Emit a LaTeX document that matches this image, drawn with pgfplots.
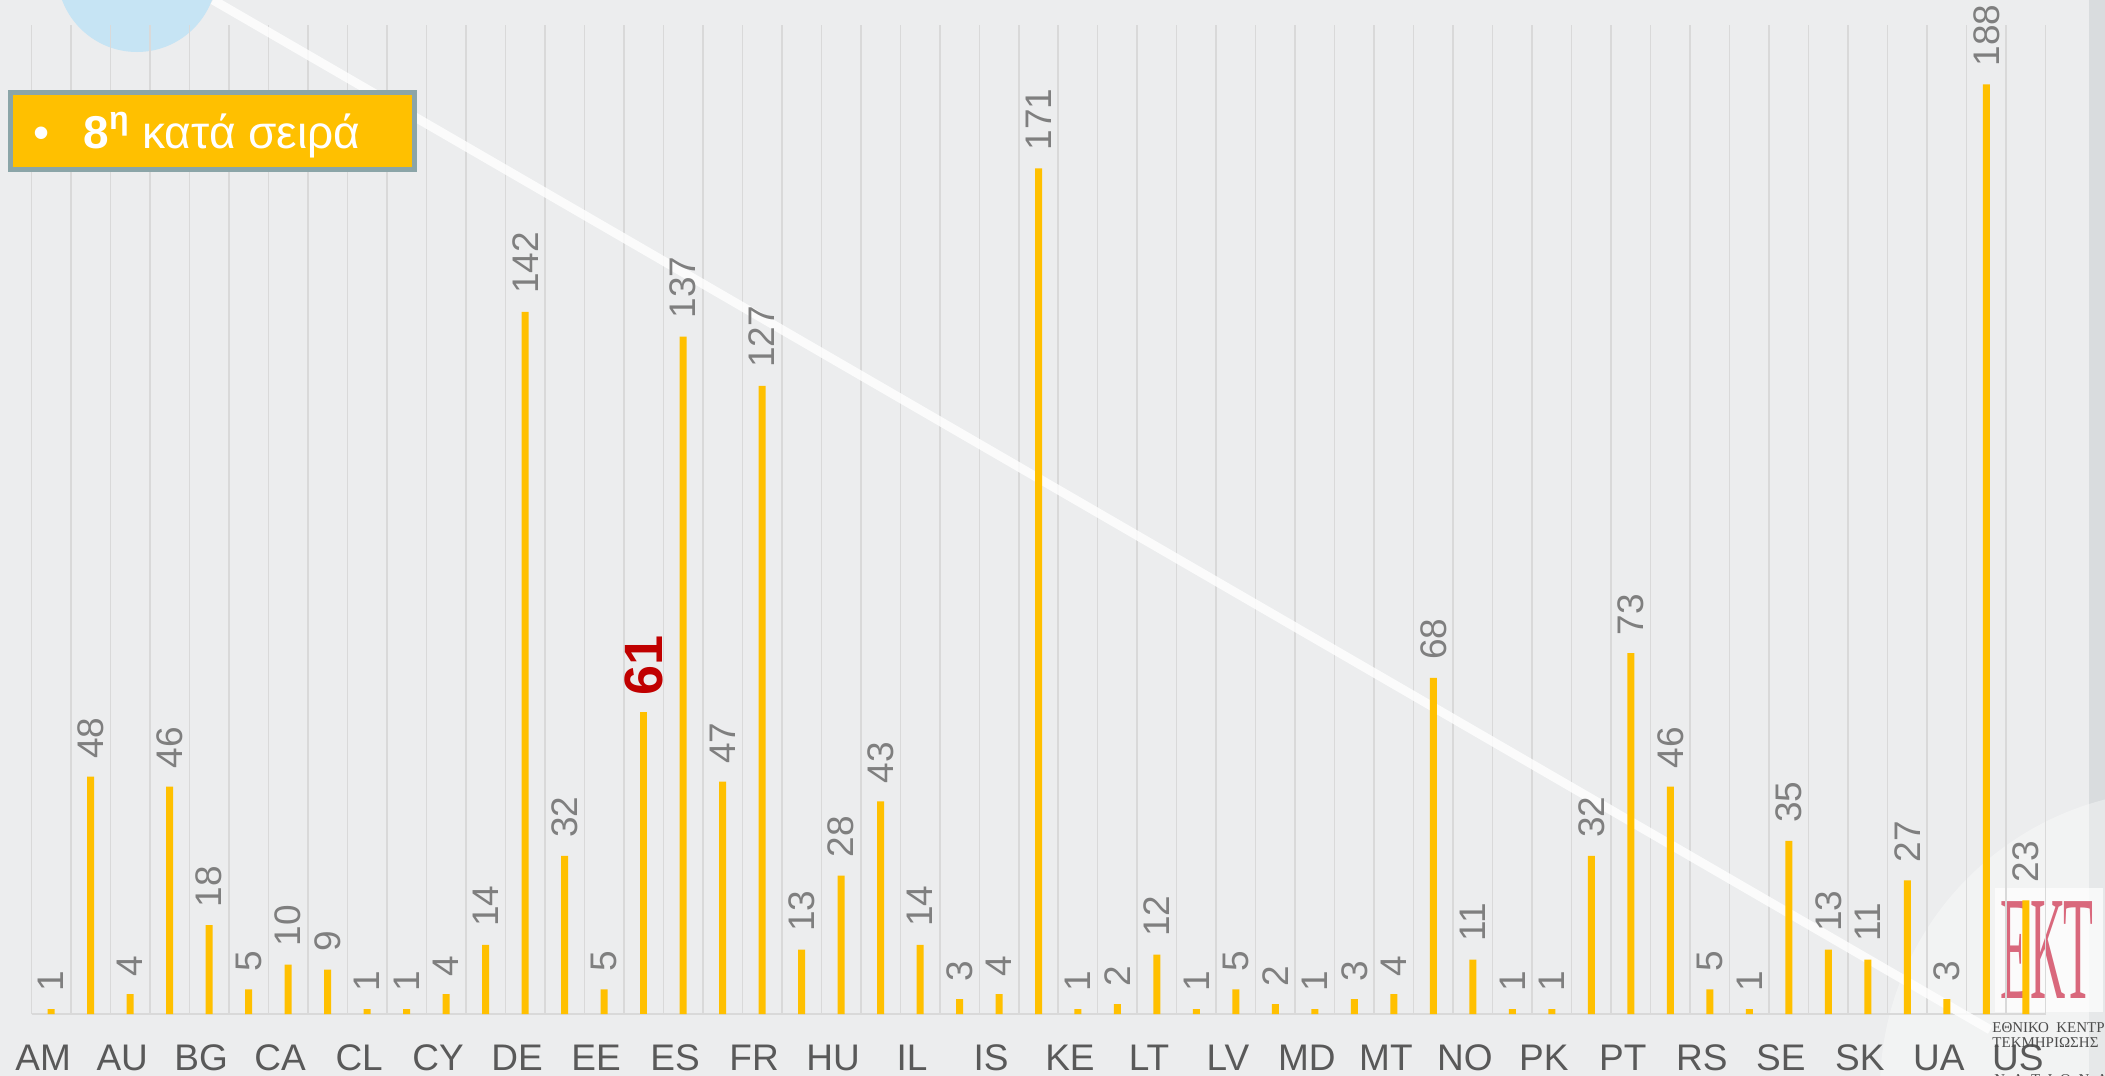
\documentclass[border=0pt]{standalone}
\usepackage{pgfplots}
\pgfplotsset{compat=1.18}
\usepackage{fontspec}
\setmainfont{Liberation Sans}
\newfontfamily\grserif{Liberation Serif}
\definecolor{bgc}{HTML}{ECEDEE}
\definecolor{gridc}{HTML}{D9D9D9}
\definecolor{barc}{HTML}{FFC000}
\definecolor{labc}{HTML}{7F7F7F}
\definecolor{tickc}{HTML}{595959}
\definecolor{redc}{HTML}{C00000}
\definecolor{boxborder}{HTML}{8BA5A8}
\definecolor{bluec}{HTML}{C6E4F4}
\definecolor{stripc}{HTML}{D9DCDE}
\definecolor{ektred}{HTML}{D9687C}
\begin{document}
\begin{tikzpicture}
\begin{scope}[x=0.5pt,y=-0.5pt]
\clip (0,0) rectangle (2105,1076);
\fill[bgc] (0,0) rectangle (2105,1076);
\fill[stripc] (2089,0) rectangle (2105,1076);
\fill[bluec] (137,-28) circle[radius=40pt];
\fill[white, opacity=0.35] (2180,1090) circle[radius=150pt];
\fill[white, opacity=0.7] (1995,888) rectangle (2103,1012);
\node[font=\grserif\fontsize{74}{74}\selectfont, text=ektred, xscale=0.33, anchor=base, inner sep=0pt] at (2047,998) {ΕΚΤ};
\end{scope}
\begin{axis}[
  at={(15.75pt,-507pt)}, anchor=south west,
  scale only axis, width=1007pt, height=494.5pt,
  xmin=0.5, xmax=51.5, ymin=0, ymax=200,
  axis x line=bottom, axis y line=none,
  axis line style={draw=gridc, line width=1pt, -},
  xtick={1,3,...,51},
  xticklabels={AM,AU,BG,CA,CL,CY,DE,EE,ES,FR,HU,IL,IS,KE,LT,LV,MD,MT,NO,PK,PT,RS,SE,SK,UA,US},
  minor xtick={0.5,1.5,...,51.5},
  xminorgrids=true, xmajorgrids=false,
  minor grid style={draw=gridc, line width=0.75pt},
  major tick length=0pt, minor tick length=0pt,
  ytick=\empty,
  xticklabel style={font=\fontsize{18.5}{20}\selectfont, text=tickc, anchor=base, inner sep=0pt, yshift=-28.35pt, xshift=-4pt},
  /pgf/number format/assume math mode=true,
  clip=false,
]
\draw[white, opacity=0.8, line width=4.5pt] (axis cs:5.096,205.06) -- (axis cs:50.1,-3.2);
\addplot[ybar, bar width=3.5pt, bar shift=0pt, fill=barc, draw=none,
  nodes near coords,
  every node near coord/.append style={rotate=90, anchor=west, inner sep=0pt, outer sep=9pt, font=\fontsize{18.5}{20}\selectfont, text=labc}]
coordinates {(1,1) (2,48) (3,4) (4,46) (5,18) (6,5) (7,10) (8,9) (9,1) (10,1)
(11,4) (12,14) (13,142) (14,32) (15,5) (17,137) (18,47) (19,127) (20,13)
(21,28) (22,43) (23,14) (24,3) (25,4) (26,171) (27,1) (28,2) (29,12) (30,1)
(31,5) (32,2) (33,1) (34,3) (35,4) (36,68) (37,11) (38,1) (39,1) (40,32)
(41,73) (42,46) (43,5) (44,1) (45,35) (46,13) (47,11) (48,27) (49,3) (50,188) (51,23)};
\addplot[ybar, bar width=3.5pt, bar shift=0pt, fill=barc, draw=none,
  nodes near coords,
  every node near coord/.append style={rotate=90, anchor=west, inner sep=0pt, outer sep=8.5pt, font=\bfseries\fontsize{27}{30}\selectfont, text=redc}]
coordinates {(16,61)};
\end{axis}
\begin{scope}[x=0.5pt,y=-0.5pt]
\clip (0,0) rectangle (2105,1076);
\draw[boxborder, fill=barc, line width=2.5pt] (10.5,92.5) rectangle (414.5,169.5);
\node[anchor=base west, inner sep=0pt, text=white, font=\fontsize{23}{26}\selectfont] at (33,148) {•\hspace{17pt}\textbf{8\textsuperscript{η}} κατά σειρά};
\node[anchor=base west, inner sep=0pt, text=black!70, font=\grserif\fontsize{7.5}{8}\selectfont] at (1992,1032) {ΕΘΝΙΚΟ\ \ ΚΕΝΤΡΟ};
\node[anchor=base west, inner sep=0pt, text=black!70, font=\grserif\fontsize{7.5}{8}\selectfont] at (1992,1047) {ΤΕΚΜΗΡΙΩΣΗΣ};
\node[anchor=base west, inner sep=0pt, text=black!70, font=\grserif\fontsize{7.5}{8}\selectfont] at (1994,1084) {N\ \ A\ \ T\ \ I\ \ O\ \ N\ \ A\ \ L};
\end{scope}
\pgfresetboundingbox
\path[use as bounding box] (0pt,0pt) rectangle (1052.5pt,-538pt);
\end{tikzpicture}
\end{document}
